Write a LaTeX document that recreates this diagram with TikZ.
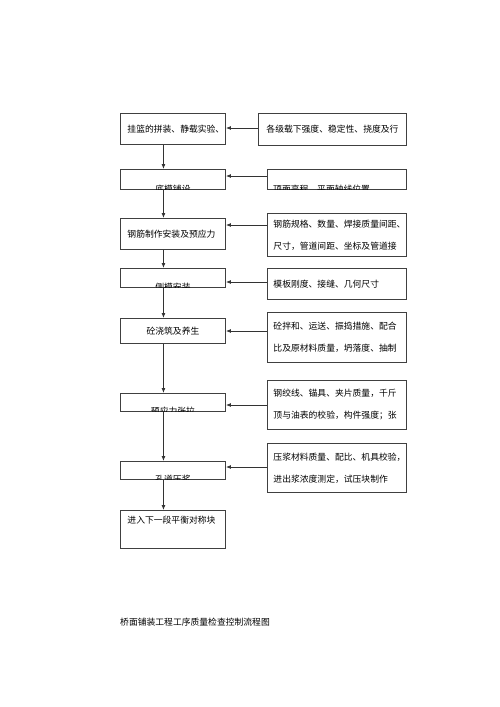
\documentclass[tikz,border=0pt]{standalone}
\usepackage{fontspec}
\setmainfont{Noto Sans CJK SC}
\usetikzlibrary{positioning}
\usetikzlibrary{arrows.meta}

\begin{document}
\begin{tikzpicture}[x=1pt, y=-1pt,
    box/.style = {draw=black!75, line width=0.9pt, anchor=north west, inner sep=0pt,
                  font=\fontsize{8.8pt}{22pt}\selectfont},
    stage/.style = {box, minimum width=105pt, text width=91pt, inner xsep=7pt, align=left},
    check/.style = {box, minimum width=139pt, text width=127pt, inner xsep=6pt, align=left},
    cut/.style = {inner sep=0pt, font=\fontsize{8.8pt}{10pt}\selectfont},
    arr/.style = {draw=black!80, line width=0.9pt, -{Latex[length=5pt,width=4pt]}}]
    \useasboundingbox (0,0) rectangle (500,707);
    % left column: steps
    \node[stage, minimum height=31pt](s1) at (120,113){挂篮的拼装、静载实验、};
    \node[stage, minimum height=20pt](s2) at (120,169){};
    \node[stage, minimum height=31pt](s3) at (120,218){钢筋制作安装及预应力};
    \node[stage, minimum height=19pt](s4) at (120,268){};
    \node[stage, minimum height=25pt, align=center](s5) at (120,318){砼浇筑及养生};
    \node[stage, minimum height=18pt](s6) at (120,393){};
    \node[stage, minimum height=18pt](s7) at (120,461){};
    \node[stage, minimum height=38pt](s8) at (120,510){进入下一段平衡对称块\\[-2pt]\mbox{}};
    % right column: checks
    \node[box, minimum width=148pt, minimum height=32pt, align=center](c1) at (258,113){各级载下强度、稳定性、挠度及行};
    \node[check, minimum height=20pt](c2) at (267,169){};
    \node[check, minimum height=43pt](c3) at (267,213){钢筋规格、数量、焊接质量间距、\\尺寸，管道间距、坐标及管道接};
    \node[check, minimum height=31pt](c4) at (267,268){模板刚度、接缝、几何尺寸};
    \node[check, minimum height=50pt](c5) at (267,312){砼拌和、运送、振捣措施、配合\\比及原材料质量，坍落度、抽制};
    \node[check, minimum height=49pt](c6) at (267,380){钢绞线、锚具、夹片质量，千斤\\顶与油表的校验，构件强度；张};
    \node[check, minimum height=49pt](c7) at (267,443){压浆材料质量、配比、机具校验，\\进出浆浓度测定，试压块制作};
    % texts cut off at the lower edge
    \foreach \b/\t in {s2/底模铺设, s4/侧模安装, s6/预应力张拉, s7/孔道压浆}{
        \begin{scope}
            \clip (\b.south west) rectangle (\b.north east);
            \node[cut](t\b) at ([yshift=1pt]\b.south){\t};
        \end{scope}
    }
    \begin{scope}
        \clip (c2.south west) rectangle (c2.north east);
        \node[cut, anchor=west](tc2) at ([xshift=6pt, yshift=1pt]c2.south west){顶面高程、平面轴线位置};
    \end{scope}
    % arrows
    \foreach \a/\b in {s1/s2, s2/s3, s3/s4, s4/s5, s5/s6, s6/s7, s7/s8}
        \draw[arr] ([xshift=-9.5pt]\a.south) -- ([xshift=-9.5pt]\b.north);
    \foreach \a/\b/\y in {c1/s1/128, c2/s2/176, c3/s3/225, c4/s4/282, c5/s5/331, c6/s6/405, c7/s7/467}
        \draw[arr] (\a.west |- 0,\y) -- (\b.east |- 0,\y);
    % caption
    \node[anchor=west, inner sep=0pt, font=\fontsize{8.8pt}{10pt}\selectfont](title) at (120,622){桥面铺装工程工序质量检查控制流程图};
\end{tikzpicture}
\end{document}
